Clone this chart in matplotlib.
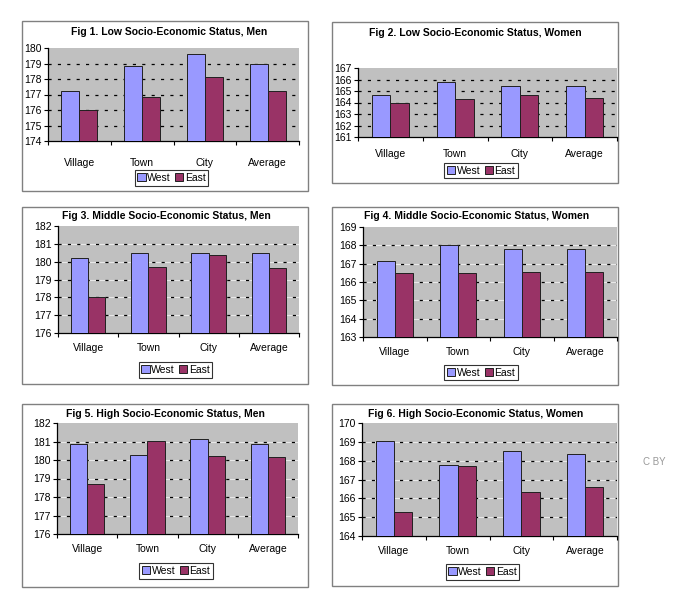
import matplotlib
matplotlib.use("Agg")
import matplotlib.pyplot as plt
from matplotlib.patches import Rectangle, Patch

plt.rcParams['font.family'] = ['Liberation Sans', 'DejaVu Sans']

categories = ["Village", "Town", "City", "Average"]
series_names = ["West", "East"]

titles = [
    "Fig 1. Low Socio-Economic Status, Men",
    "Fig 2. Low Socio-Economic Status, Women",
    "Fig 3. Middle Socio-Economic Status, Men",
    "Fig 4. Middle Socio-Economic Status, Women",
    "Fig 5. High Socio-Economic Status, Men",
    "Fig 6. High Socio-Economic Status, Women",
]

west_1 = [177.23, 178.82, 179.61, 178.99]
east_1 = [175.98, 176.86, 178.15, 177.23]
west_2 = [164.69, 165.74, 165.45, 165.45]
east_2 = [163.99, 164.34, 164.69, 164.40]
west_3 = [180.22, 180.51, 180.46, 180.46]
east_3 = [178.00, 179.71, 180.40, 179.62]
west_4 = [167.16, 168.00, 167.82, 167.82]
east_4 = [166.47, 166.47, 166.56, 166.53]
west_5 = [180.87, 180.26, 181.14, 180.84]
east_5 = [178.72, 181.05, 180.23, 180.15]
west_6 = [169.02, 167.78, 168.49, 168.38]
east_6 = [165.30, 167.74, 166.32, 166.58]

y_ranges = [(174, 180), (161, 167), (176, 182), (163, 169), (176, 182), (164, 170)]

west_all = [west_1, west_2, west_3, west_4, west_5, west_6]
east_all = [east_1, east_2, east_3, east_4, east_5, east_6]

W, H = 680, 595
fig = plt.figure(figsize=(W / 100, H / 100), dpi=100)

# layout in pixels: frame (l, t, r, b), plot area (l, t, r, b), title center, legend center, xlabel pad(pt)
frames = [(22, 21, 308, 191), (332, 22, 618, 183), (22, 207, 308, 384),
          (332, 207, 618, 385), (22, 404, 308, 587), (332, 404, 618, 586)]
plots = [(48, 48, 299, 141), (358, 68, 617, 137), (58, 226, 299, 333),
         (363, 227, 617, 337), (57, 423, 298, 534), (362, 423, 617, 536)]
title_pos = [(169, 32), (475, 33), (166, 216), (477, 216), (165, 414), (476, 414)]
legend_pos = [(171.5, 178), (481, 170.5), (175.5, 370), (481, 372.5), (176, 571), (482.5, 572)]
xpads = [12.0, 8.5, 7.0, 7.5, 7.5, 7.0]

def fx(x):
    return x / W

def fy(y):
    return 1 - y / H

west_color = "#9999FF"
east_color = "#993366"
bar_w = 0.286

for k in range(6):
    fl, ft, fr, fb = frames[k]
    fig.patches.append(Rectangle((fx(fl), fy(fb)), fx(fr) - fx(fl), fy(ft) - fy(fb),
                                 transform=fig.transFigure, facecolor="white",
                                 edgecolor="#808080", lw=1.0, zorder=-5))
    pl, pt, pr, pb = plots[k]
    ax = fig.add_axes([fx(pl), fy(pb), fx(pr) - fx(pl), fy(pt) - fy(pb)])
    ax.set_zorder(1)
    ax.set_facecolor("#C0C0C0")
    ymin, ymax = y_ranges[k]
    xs = list(range(len(categories)))
    w = west_all[k]
    e = east_all[k]
    ax.bar([x - bar_w / 2 for x in xs], [v - ymin for v in w], bottom=ymin, width=bar_w,
           color=west_color, edgecolor="#202020", lw=0.7, zorder=3)
    ax.bar([x + bar_w / 2 for x in xs], [v - ymin for v in e], bottom=ymin, width=bar_w,
           color=east_color, edgecolor="#202020", lw=0.7, zorder=3)
    ax.set_xlim(-0.5, len(categories) - 0.5)
    ax.set_ylim(ymin, ymax)
    ax.set_yticks(range(ymin, ymax + 1))
    ax.set_yticklabels([str(v) for v in range(ymin, ymax + 1)], fontsize=7.5)
    # gridlines
    for g in range(ymin + 1, ymax):
        if k >= 2:
            ax.axhline(g, color="#E8E8E8", lw=0.8, zorder=1)
        ax.axhline(g, color="black", lw=0.9, dashes=(2.5, 5), zorder=1.5)
    ax.set_xticks(xs)
    ax.set_xticklabels(categories, fontsize=7.5)
    ax.tick_params(axis="x", which="major", length=0, pad=xpads[k])
    ax.set_xticks([x - 0.5 for x in range(len(categories) + 1)], minor=True)
    ax.tick_params(axis="x", which="minor", length=3, width=0.8, direction="out")
    ax.tick_params(axis="y", length=3, width=0.8, pad=1.5, direction="out")
    for s in ["top", "right"]:
        ax.spines[s].set_visible(False)
    ax.spines["left"].set_linewidth(0.9)
    ax.spines["bottom"].set_linewidth(0.9)
    tx, ty = title_pos[k]
    fig.text(fx(tx), fy(ty), titles[k], ha="center", va="center", fontsize=7.5,
             fontweight="bold")
    handles = [Patch(facecolor=west_color, edgecolor="#202020", lw=0.7),
               Patch(facecolor=east_color, edgecolor="#202020", lw=0.7)]
    lx, ly = legend_pos[k]
    leg = fig.legend(handles, series_names, loc="center", bbox_to_anchor=(fx(lx), fy(ly)),
                     bbox_transform=fig.transFigure, ncol=2, fontsize=7.5, frameon=True,
                     fancybox=False, handlelength=0.8, handleheight=0.8, handletextpad=0.15,
                     columnspacing=0.4, borderpad=0.25, borderaxespad=0)
    leg.get_frame().set_edgecolor("black")
    leg.get_frame().set_linewidth(0.8)

fig.text(fx(654), fy(462), "C BY", ha="center", va="center", fontsize=7, color="#999999")

fig.savefig("out.png", dpi=100)
